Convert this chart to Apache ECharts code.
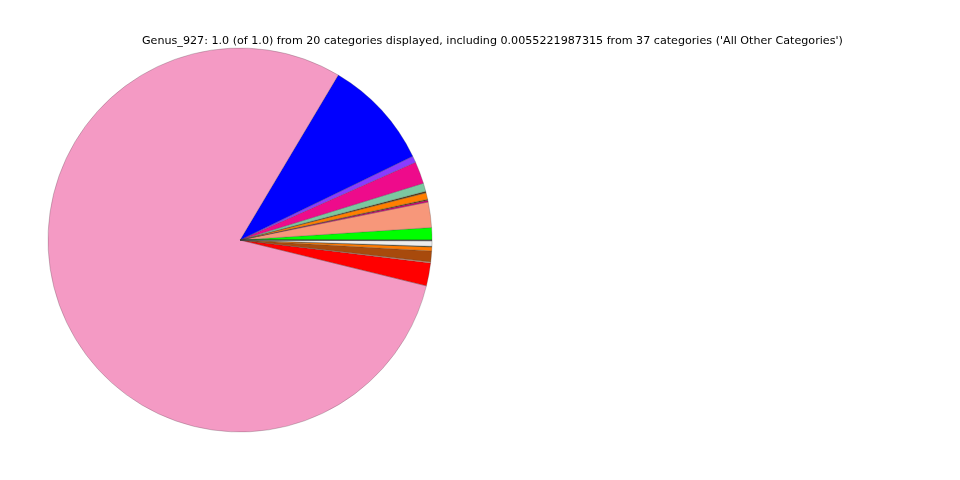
<!DOCTYPE html>
<html>
<head>
<meta charset="utf-8">
<script src="https://cdn.jsdelivr.net/npm/echarts@6/dist/echarts.min.js"></script>
<style>html,body{margin:0;padding:0;background:#fff}#c{width:960px;height:480px}</style>
</head>
<body>
<div id="c"></div>
<script>
var titleText = "Genus_927: 1.0 (of 1.0) from 20 categories displayed, including 0.0055221987315 from 37 categories ('All Other Categories')";
var categories = ["Cat A","Cat B","Cat C","Cat D","All Other Categories","Cat F","Cat G","Cat H","Cat I","Cat J","Cat K","Cat L","Cat M","Cat N","Cat O","Cat P","Cat Q","Cat R","Cat S","Cat T"];
var values = [0.01036,0.02136,0.00153,0.00083,0.00552,0.00125,0.00694,0.01861,0.00547,0.09264,0.79714,0.01931,0.00083,0.00917,0.00333,0.00056,0.00444,0.00030,0.00025,0.00020];
var colors = ["#00ff00","#f7977a","#d0007a","#5a3a00","#ff7f00","#5a3a10","#7cc8a0","#ee0b8b","#8a3cff","#0000ff","#f49ac4","#ff0000","#f4997a","#a84a0c","#ff7a00","#3a3a10","#ececec","#c0c0c0","#808080","#404040"];
var chart = echarts.init(document.getElementById('c'), null, {renderer:'canvas'});
var data = categories.map(function(c,i){return {name:c, value:values[i], itemStyle:{color:colors[i]}};});
chart.setOption({
  animation:false,
  backgroundColor:'#ffffff',
  title:{text:titleText,left:137,top:31,textStyle:{fontFamily:'DejaVu Sans',fontSize:11.14,fontWeight:'normal',color:'#000'}},
  series:[{
    type:'pie',
    center:[240,240],
    radius:[0,192],
    startAngle:0,
    clockwise:false,
    minAngle:0,
    label:{show:false},
    labelLine:{show:false},
    itemStyle:{borderColor:'rgba(60,60,60,0.5)',borderWidth:0.5},
    emphasis:{disabled:true},
    data:data
  }]
});
</script>
</body>
</html>
